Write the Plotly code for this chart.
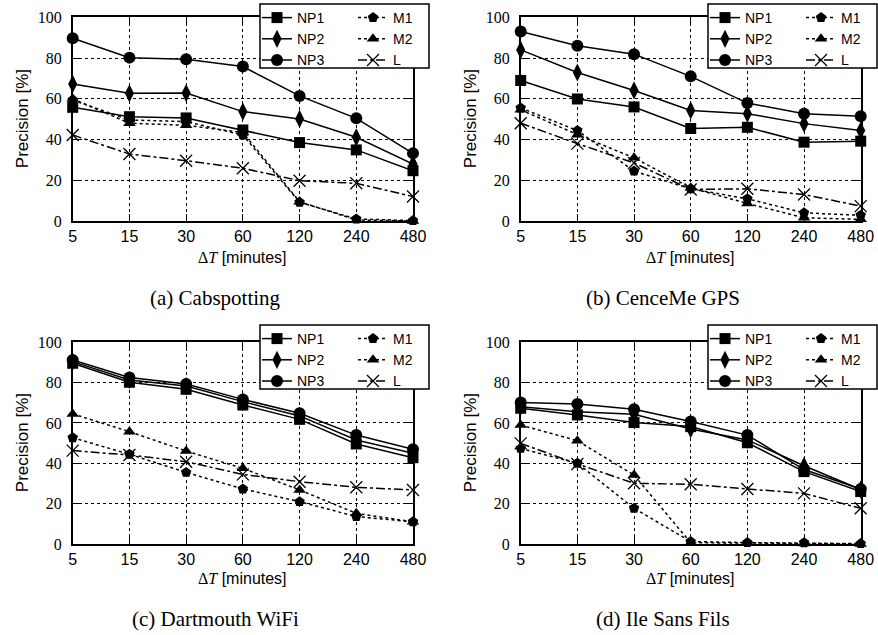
import plotly.graph_objects as go

W, H = 878, 635

DT_LABELS = ["5", "15", "30", "60", "120", "240", "480"]
SERIES = ["NP1", "NP2", "NP3", "M1", "M2", "L"]

# (a) Cabspotting
a_NP1 = [55.8, 51.2, 50.6, 44.7, 38.5, 34.9, 24.7]
a_NP2 = [67.3, 62.7, 62.8, 53.7, 50.1, 41.1, 28.0]
a_NP3 = [89.7, 80.2, 79.4, 75.8, 61.4, 50.4, 33.2]
a_M1 = [59.4, 49.6, 48.8, 42.2, 9.2, 1.0, 0.2]
a_M2 = [60.0, 48.0, 47.0, 43.4, 9.5, 0.5, 0.0]
a_L = [42.2, 32.9, 29.6, 25.9, 19.8, 18.5, 12.0]

# (b) CenceMe GPS
b_NP1 = [69.0, 59.9, 56.0, 45.4, 46.0, 38.7, 39.2]
b_NP2 = [84.0, 72.9, 64.1, 54.3, 52.7, 47.8, 44.4]
b_NP3 = [93.0, 86.0, 81.9, 71.0, 57.9, 52.7, 51.4]
b_M1 = [55.5, 44.4, 24.5, 15.8, 10.9, 4.0, 2.8]
b_M2 = [54.6, 42.4, 31.0, 16.3, 8.6, 1.6, 0.8]
b_L = [48.0, 38.0, 28.5, 15.5, 15.8, 13.0, 7.3]

# (c) Dartmouth WiFi
c_NP1 = [89.6, 80.2, 76.7, 68.9, 61.8, 49.6, 42.8]
c_NP2 = [90.4, 81.3, 78.3, 70.6, 63.5, 51.6, 45.0]
c_NP3 = [91.2, 82.6, 79.3, 71.7, 64.8, 54.0, 47.0]
c_M1 = [52.7, 44.5, 35.5, 27.3, 21.0, 13.6, 11.0]
c_M2 = [64.5, 55.7, 46.1, 37.5, 26.8, 15.2, 11.0]
c_L = [46.3, 44.1, 40.8, 34.5, 30.9, 28.1, 26.8]

# (d) Ile Sans Fils
d_NP1 = [67.3, 64.0, 60.2, 58.2, 50.2, 35.9, 26.0]
d_NP2 = [68.1, 65.6, 64.3, 57.0, 51.6, 38.8, 27.0]
d_NP3 = [70.2, 69.4, 66.8, 60.7, 54.0, 36.9, 27.3]
d_M1 = [47.4, 40.0, 17.7, 1.2, 0.7, 0.6, 0.2]
d_M2 = [59.0, 51.2, 34.2, 0.6, 0.5, 0.3, 0.0]
d_L = [49.9, 39.7, 30.1, 29.6, 27.3, 25.1, 17.7]

PANELS = [
    ("(a) Cabspotting", [a_NP1, a_NP2, a_NP3, a_M1, a_M2, a_L]),
    ("(b) CenceMe GPS", [b_NP1, b_NP2, b_NP3, b_M1, b_M2, b_L]),
    ("(c) Dartmouth WiFi", [c_NP1, c_NP2, c_NP3, c_M1, c_M2, c_L]),
    ("(d) Ile Sans Fils", [d_NP1, d_NP2, d_NP3, d_M1, d_M2, d_L]),
]

STYLE = {
    "NP1": dict(symbol="square", dash="solid", size=11),
    "NP2": dict(symbol="diamond-tall", dash="solid", size=13),
    "NP3": dict(symbol="circle", dash="solid", size=12),
    "M1": dict(symbol="pentagon", dash="dot", size=11),
    "M2": dict(symbol="triangle-up", dash="dot", size=11),
    "L": dict(symbol="x-thin-open", dash="dashdot", size=12),
}

SANS = "Liberation Sans, Arial, sans-serif"
SERIF = "Liberation Serif, Times New Roman, serif"
XTITLE = ('<span style="font-family:Liberation Serif">Δ<i>T</i></span> [minutes]')


def px(x):
    return x / W


def py(y):
    return 1 - y / H


# panel geometry in pixels: (x0, x1, ytop, ybottom)
GEOM = [
    (72.7, 413.0, 17.3, 221.0),
    (520.7, 860.7, 17.3, 221.0),
    (72.7, 413.0, 342.3, 544.0),
    (520.7, 860.7, 342.3, 544.0),
]
OFFS = [(0, 0), (448, 0), (0, 321), (448, 321)]
CAP_X = [215, 663, 215, 663]

fig = go.Figure()
layout = dict(
    width=W, height=H, margin=dict(l=0, r=0, t=0, b=0, autoexpand=False),
    paper_bgcolor="white", plot_bgcolor="white", showlegend=True,
)
annotations = []
shapes = []

for k, (caption, vals) in enumerate(PANELS):
    x0, x1, yt, yb = GEOM[k]
    ox, oy = OFFS[k]
    xa = "x" if k == 0 else f"x{k+1}"
    ya = "y" if k == 0 else f"y{k+1}"
    leg_l = "legend" if k == 0 else f"legend{2*k+1}"
    leg_r = f"legend{2*k+2}"
    for name, v in zip(SERIES, vals):
        st = STYLE[name]
        fig.add_trace(go.Scatter(
            x=DT_LABELS, y=v, name=name, mode="lines+markers",
            xaxis=xa, yaxis=ya, cliponaxis=False,
            legend=leg_l if name.startswith("NP") else leg_r,
            line=dict(color="black", width=1.5, dash=st["dash"]),
            marker=dict(symbol=st["symbol"], size=st["size"], color="black",
                        line=dict(color="black", width=1.3 if name == "L" else 0)),
        ))
    axcommon = dict(showline=True, linecolor="black", linewidth=1.5, mirror="ticks",
                    ticks="inside", ticklen=7, tickcolor="black", tickwidth=1,
                    showgrid=True, gridcolor="black", griddash="dot", gridwidth=1,
                    zeroline=False)
    layout["xaxis" if k == 0 else f"xaxis{k+1}"] = dict(
        axcommon, domain=[px(x0), px(x1)], anchor=ya, type="category",
        range=[0, 6], tickfont=dict(family=SANS, size=16, color="black"),
        ticklabelstandoff=0,
    )
    layout["yaxis" if k == 0 else f"yaxis{k+1}"] = dict(
        axcommon, domain=[py(yb), py(yt)], anchor=xa, range=[0, 100],
        tickvals=[0, 20, 40, 60, 80, 100],
        tickfont=dict(family=SERIF, size=16, color="black"),
        ticklabelstandoff=6,
    )
    # legends (two columns inside one box)
    layout[leg_l] = dict(x=px(257 + ox), y=py(2 + oy), xanchor="left", yanchor="top",
                         bgcolor="rgba(0,0,0,0)", borderwidth=0, tracegroupgap=0,
                         font=dict(family=SANS, size=14, color="black"))
    layout[leg_r] = dict(x=px(353 + ox), y=py(2 + oy), xanchor="left", yanchor="top",
                         bgcolor="rgba(0,0,0,0)", borderwidth=0, tracegroupgap=0,
                         font=dict(family=SANS, size=14, color="black"))
    shapes.append(dict(type="rect", xref="paper", yref="paper",
                       x0=px(260 + ox), x1=px(429 + ox), y0=py(68 + oy), y1=py(4 + oy),
                       line=dict(color="black", width=1.5), fillcolor="white", layer="above"))
    # axis titles and caption
    annotations.append(dict(text="Precision [%]", x=px(22 + ox), y=py((yt + yb) / 2),
                            xref="paper", yref="paper", showarrow=False, textangle=-90,
                            xanchor="center", yanchor="middle",
                            font=dict(family=SANS, size=17, color="black")))
    annotations.append(dict(text=XTITLE, x=px((x0 + x1) / 2), y=py(257 + oy),
                            xref="paper", yref="paper", showarrow=False,
                            xanchor="center", yanchor="middle",
                            font=dict(family=SANS, size=16, color="black")))
    annotations.append(dict(text=caption, x=px(CAP_X[k]), y=py(298 + oy),
                            xref="paper", yref="paper", showarrow=False,
                            xanchor="center", yanchor="middle",
                            font=dict(family=SERIF, size=21, color="black")))

layout["annotations"] = annotations
layout["shapes"] = shapes
fig.update_layout(**layout)
fig.write_html(
    "out.html",
    config={"displayModeBar": False},
    post_script="document.body.style.margin='0';document.body.style.overflow='hidden';",
)
